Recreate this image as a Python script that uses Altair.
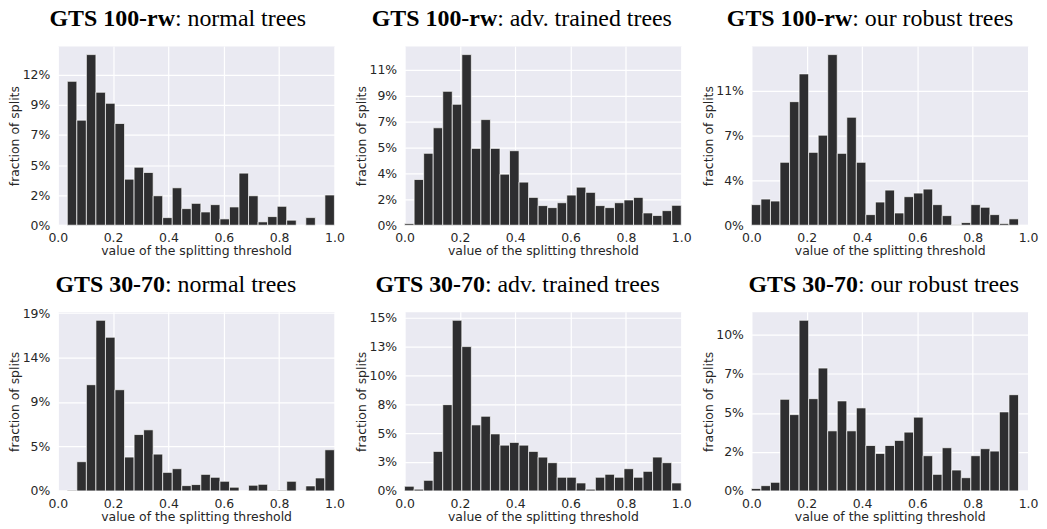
import altair as alt
import pandas as pd

# ---------------- data (fraction of splits, in %, 29 equal bins on [0, 1]) ----------------
N_BINS = 29

titles_bold = ["GTS 100-rw", "GTS 100-rw", "GTS 100-rw", "GTS 30-70", "GTS 30-70", "GTS 30-70"]
titles_rest = [": normal trees", ": adv. trained trees", ": our robust trees",
               ": normal trees", ": adv. trained trees", ": our robust trees"]

vals_100rw_normal = [0, 11.19, 8.17, 13.27, 10.34, 9.48, 7.91, 3.58, 4.51, 4.10, 2.29, 0.59, 2.91,
                     1.29, 1.70, 1.03, 1.60, 0.49, 1.42, 4.05, 2.29, 0.26, 0.67, 1.47, 0.39, 0.0,
                     0.59, 0.0, 2.35]
vals_100rw_adv = [0.11, 3.17, 4.99, 6.76, 9.29, 8.39, 11.84, 5.33, 7.33, 5.33, 3.54, 5.17, 2.99,
                  1.93, 1.36, 1.22, 1.56, 2.09, 2.64, 2.28, 1.36, 1.22, 1.56, 1.75, 1.93, 0.85,
                  0.67, 1.01, 1.38]
vals_100rw_robust = [1.65, 2.10, 1.94, 5.05, 9.92, 12.15, 5.85, 7.23, 13.70, 5.77, 8.67, 5.05, 0.85,
                     1.86, 2.82, 0.98, 2.29, 2.58, 2.90, 1.65, 0.77, 0.05, 0.21, 1.65, 1.44, 0.85,
                     0.13, 0.51, 0.0]
vals_3070_normal = [0.0, 0.07, 3.09, 11.23, 18.04, 16.25, 10.70, 3.58, 5.96, 6.46, 3.89, 1.96, 2.35,
                    0.56, 0.67, 1.75, 1.44, 1.02, 0.39, 0.0, 0.60, 0.70, 0.05, 0.07, 1.02, 0.0,
                    0.53, 1.37, 4.35]
vals_3070_adv = [0.41, 0.15, 0.93, 3.47, 7.58, 14.99, 12.68, 5.80, 6.56, 5.01, 4.02, 4.26, 4.02,
                 3.47, 2.97, 2.48, 1.20, 1.20, 0.70, 0.15, 1.20, 1.46, 1.20, 1.95, 1.20, 1.72,
                 2.97, 2.48, 0.70]
vals_3070_robust = [0.15, 0.33, 0.54, 5.75, 4.79, 10.71, 5.79, 7.71, 3.77, 5.65, 3.77, 5.21, 2.85,
                    2.35, 2.85, 3.17, 3.69, 4.63, 2.21, 1.04, 2.71, 1.31, 0.83, 2.21, 2.65, 2.50,
                    4.96, 6.04, 0.0]

all_vals = [vals_100rw_normal, vals_100rw_adv, vals_100rw_robust,
            vals_3070_normal, vals_3070_adv, vals_3070_robust]

# y tick spacing (in %) and the tick labels shown on each panel
tick_steps = [2.34, 1.8, 3.6, 4.7, 2.54, 2.45]
tick_labels = [
    ["0%", "2%", "5%", "7%", "9%", "12%"],
    ["0%", "2%", "4%", "5%", "7%", "9%", "11%"],
    ["0%", "4%", "7%", "11%"],
    ["0%", "5%", "9%", "14%", "19%"],
    ["0%", "3%", "5%", "8%", "10%", "13%", "15%"],
    ["0%", "2%", "5%", "7%", "10%"],
]
x_ticks = [0.0, 0.2, 0.4, 0.6, 0.8, 1.0]

# layout helpers (title split point, px from plot left)
title_split = [117.7, 93.0, 101.3, 107.7, 80.7, 107.0]

W, H = 278, 180
TITLE_FONT = "Liberation Serif"
TITLE_SIZE = 24


def panel(i):
    vals = all_vals[i]
    df = pd.DataFrame({
        "lo": [k / N_BINS for k in range(N_BINS)],
        "hi": [(k + 1) / N_BINS for k in range(N_BINS)],
        "v": vals,
    })
    ymax = max(vals) * 1.05
    step = tick_steps[i]
    labels = tick_labels[i]
    ticks = [k * step for k in range(len(labels))]
    label_expr = "[" + ",".join("'%s'" % l for l in labels) + "][round(datum.value/%s)]" % step

    bars = alt.Chart(df).mark_rect(
        fill="#2e2e30", stroke="white", strokeWidth=0.8, strokeOpacity=0.85
    ).encode(
        x=alt.X("lo:Q", scale=alt.Scale(domain=[0, 1], nice=False, zero=False),
                axis=alt.Axis(values=x_ticks, format=".1f",
                              title="value of the splitting threshold",
                              labelPadding=6.5, labelFlush=False,
                              titleY=29.5, titleBaseline="alphabetic")),
        x2="hi:Q",
        y=alt.Y("v:Q", scale=alt.Scale(domain=[0, ymax], nice=False),
                axis=alt.Axis(values=ticks, labelExpr=label_expr, labelFlush=False,
                              title="fraction of splits", labelPadding=8,
                              titleX=-39, titleY=H / 2, titleAngle=270,
                              titleBaseline="alphabetic", titleAlign="center")),
        y2=alt.datum(0),
    )

    t_bold = alt.Chart(pd.DataFrame({"t": [titles_bold[i]]})).mark_text(
        align="right", baseline="alphabetic", font=TITLE_FONT, fontSize=TITLE_SIZE,
        fontWeight="bold", color="black"
    ).encode(x=alt.value(title_split[i]), y=alt.value(-20), text="t:N")

    t_rest = alt.Chart(pd.DataFrame({"t": [titles_rest[i]]})).mark_text(
        align="left", baseline="alphabetic", font=TITLE_FONT, fontSize=TITLE_SIZE,
        fontWeight="normal", color="black"
    ).encode(x=alt.value(title_split[i]), y=alt.value(-20), text="t:N")

    return alt.layer(bars, t_bold, t_rest).properties(width=W, height=H)


chart = alt.ConcatChart(
    concat=[panel(i) for i in range(6)],
    columns=3,
    spacing={"row": 87, "column": 70.5},
    bounds="flush",
).properties(
    padding={"top": -3, "left": 0, "right": 0, "bottom": 0}, background="white"
).configure_view(
    fill="#EAEAF2", stroke="transparent"
).configure_axis(
    domain=False, ticks=False, tickSize=0, grid=True, gridColor="white", gridWidth=1.2,
    labelFont="DejaVu Sans", labelFontSize=12.5, labelColor="#262626",
    titleFont="DejaVu Sans", titleFontSize=12.5, titleFontWeight="normal", titleColor="#262626"
)

chart.save("out.html", embed_options={"renderer": "svg", "actions": False})
